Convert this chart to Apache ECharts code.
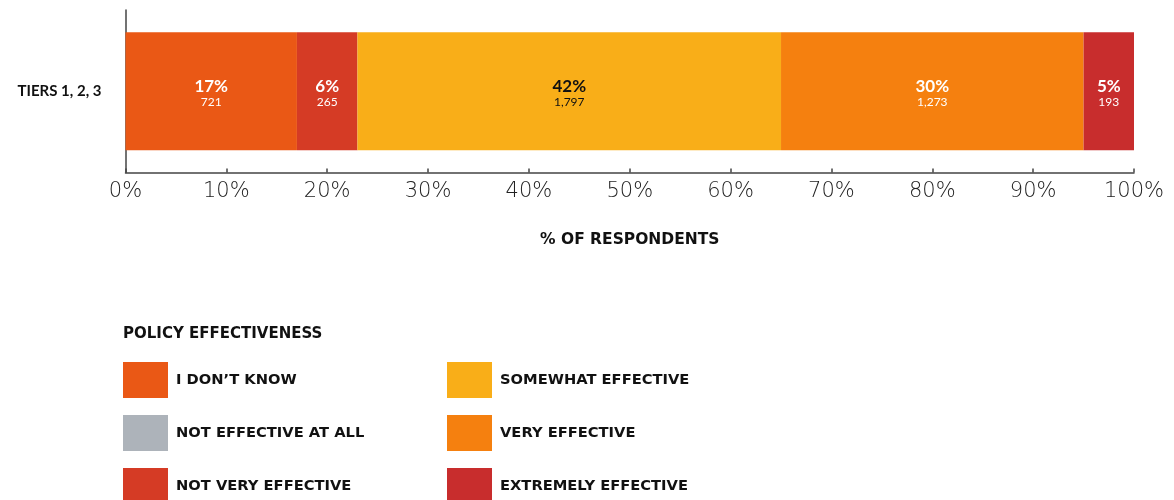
<!DOCTYPE html>
<html>
<head>
<meta charset="utf-8">
<style>
  html, body { margin: 0; padding: 0; background: #ffffff; }
  #chart { width: 1174px; height: 500px; }
</style>
<script src="https://cdn.jsdelivr.net/npm/echarts@6/dist/echarts.min.js"></script>
</head>
<body>
<div id="chart"></div>
<script>
const categories = ['TIERS 1, 2, 3'];
const seriesNames = ['I DON\u2019T KNOW', 'NOT EFFECTIVE AT ALL', 'NOT VERY EFFECTIVE', 'SOMEWHAT EFFECTIVE', 'VERY EFFECTIVE', 'EXTREMELY EFFECTIVE'];
const pctValues = [17, 0, 6, 42, 30, 5];
const countValues = ['721', '0', '265', '1,797', '1,273', '193'];
const seriesColors = ['#EA5815', '#ADB3BA', '#D53B25', '#F9AE18', '#F5800F', '#C82D2D'];
const labelColors = ['#ffffff', '#ffffff', '#ffffff', '#111111', '#ffffff', '#ffffff'];
const xAxisTitle = '% OF RESPONDENTS';
const legendTitle = 'POLICY EFFECTIVENESS';

const FONT = 'Lato, "Open Sans", sans-serif';
const BOLD = '"DejaVu Sans", Lato, sans-serif';
const LIGHT = '"DejaVu Sans", Lato, sans-serif';

const series = seriesNames.map((name, i) => ({
  name: name,
  type: 'bar',
  stack: 'total',
  barWidth: 118,
  itemStyle: { color: seriesColors[i] },
  data: [pctValues[i]],
  label: {
    show: pctValues[i] > 0,
    position: 'inside',
    offset: [0, 2],
    formatter: () => '{p|' + pctValues[i] + '%}\n{n|' + countValues[i] + '}',
    rich: {
      p: { fontFamily: FONT, fontSize: 17, fontWeight: 'bold', color: labelColors[i], lineHeight: 18, align: 'center' },
      n: { fontFamily: FONT, fontSize: 12, color: labelColors[i], lineHeight: 14, align: 'center' }
    }
  },
  emphasis: { disabled: true }
}));

const legendBase = {
  orient: 'vertical',
  top: 362,
  height: 170,
  padding: 0,
  itemWidth: 45,
  itemHeight: 36,
  itemGap: 17,
  icon: 'rect',
  selectedMode: false,
  textStyle: { fontFamily: BOLD, fontSize: 14.7, fontWeight: 'bold', color: '#111111', padding: [0, 0, 0, 3] }
};

const chart = echarts.init(document.getElementById('chart'));
chart.setOption({
  animation: false,
  textStyle: { fontFamily: FONT },
  title: {
    text: legendTitle,
    left: 123,
    top: 327,
    padding: 0,
    textStyle: { fontFamily: BOLD, fontSize: 15, fontWeight: 'bold', color: '#111111' }
  },
  legend: [
    Object.assign({}, legendBase, { left: 123, data: seriesNames.slice(0, 3) }),
    Object.assign({}, legendBase, { left: 447, data: seriesNames.slice(3) })
  ],
  grid: { left: 125.5, right: 40, top: 10, bottom: 327.5, containLabel: false },
  xAxis: {
    type: 'value',
    min: 0,
    max: 100,
    interval: 10,
    name: xAxisTitle,
    nameLocation: 'middle',
    nameGap: 59,
    nameTextStyle: { fontFamily: BOLD, fontSize: 15.5, fontWeight: 'bold', color: '#111111' },
    axisLine: { show: true, lineStyle: { color: '#444444', width: 1.5 } },
    axisTick: { show: true, inside: true, length: 4, lineStyle: { color: '#444444', width: 1.5 } },
    axisLabel: { margin: 9, fontFamily: LIGHT, fontSize: 21, fontWeight: 200, color: '#222222', formatter: '{value}%' },
    splitLine: { show: false }
  },
  yAxis: {
    type: 'category',
    data: categories,
    axisLine: { show: true, lineStyle: { color: '#444444', width: 1.5 } },
    axisTick: { show: false },
    axisLabel: { margin: 24, fontFamily: FONT, fontSize: 15, fontWeight: 'bold', color: '#111111' }
  },
  series: series
});
</script>
</body>
</html>
